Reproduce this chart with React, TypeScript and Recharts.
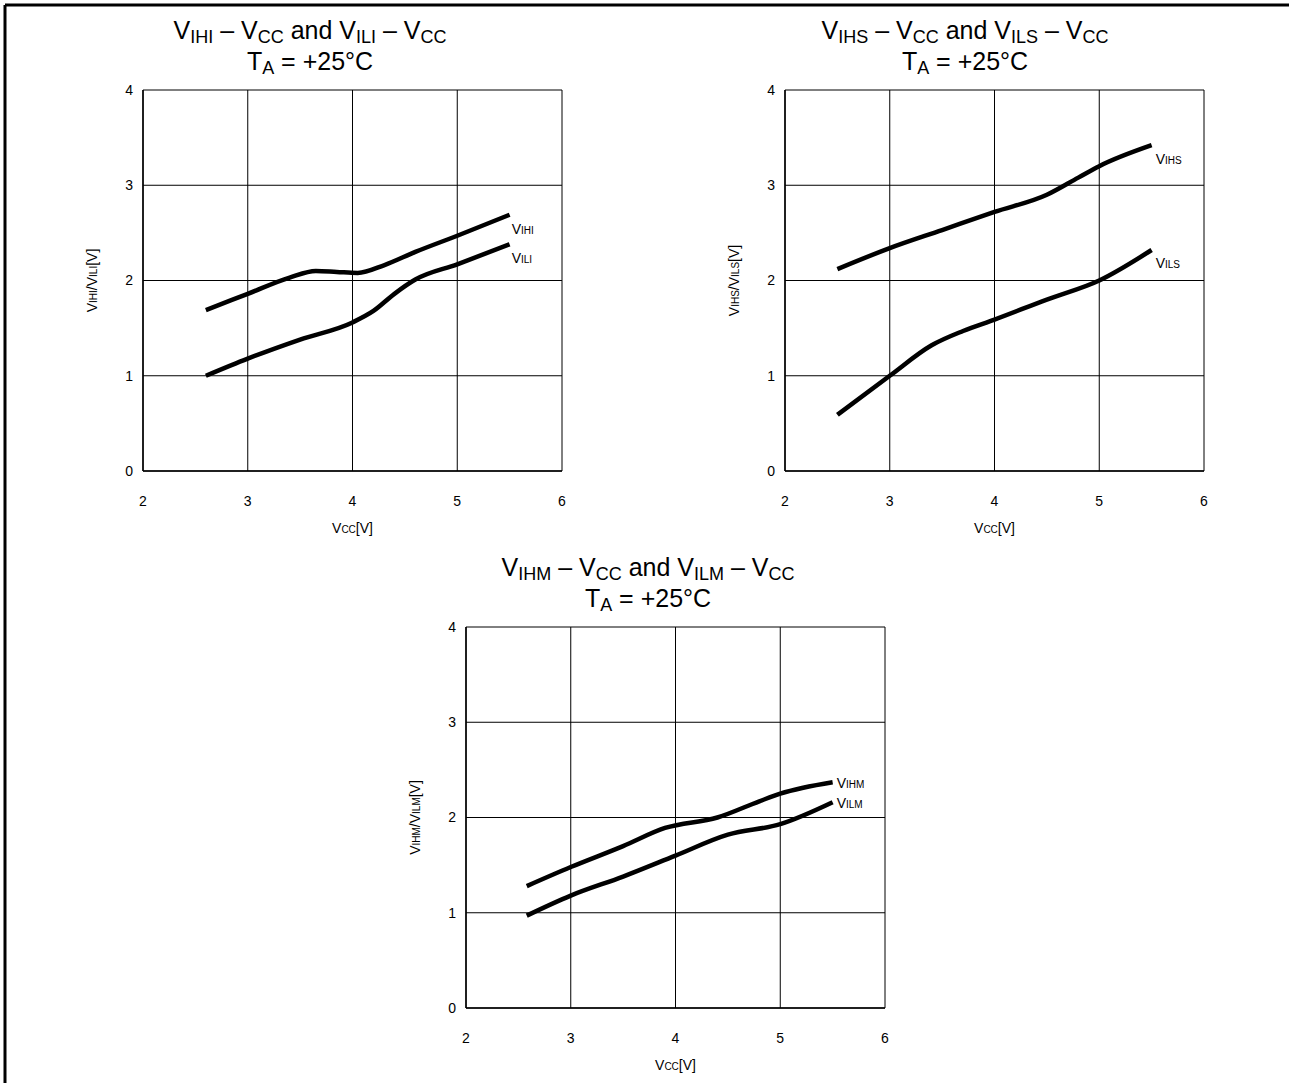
import React from 'react';
import { LineChart, Line, XAxis, YAxis, CartesianGrid } from 'recharts';

const FONT = '"Liberation Sans", Arial, Helvetica, sans-serif';

const xTicks = [2, 3, 4, 5, 6];
const yTicks = [0, 1, 2, 3, 4];

// VIHI / VILI
const vccIHI = [2.6, 3.0, 3.4, 3.65, 3.85, 4.05, 4.3, 4.6, 5.0, 5.5];
const valIHI = [1.69, 1.86, 2.03, 2.1, 2.09, 2.08, 2.16, 2.3, 2.47, 2.69];
const vccILI = [2.6, 3.0, 3.5, 4.0, 4.2, 4.4, 4.6, 5.0, 5.5];
const valILI = [1.0, 1.18, 1.38, 1.56, 1.68, 1.86, 2.01, 2.17, 2.38];

// VIHS / VILS
const vccIHS = [2.5, 3.0, 3.5, 4.0, 4.5, 4.8, 5.0, 5.5];
const valIHS = [2.12, 2.34, 2.53, 2.72, 2.9, 3.08, 3.2, 3.42];
const vccILS = [2.5, 3.0, 3.4, 3.7, 4.0, 4.5, 5.0, 5.5];
const valILS = [0.59, 1.0, 1.32, 1.47, 1.59, 1.8, 2.0, 2.32];

// VIHM / VILM
const vccIHM = [2.58, 3.0, 3.5, 3.9, 4.4, 4.8, 5.0, 5.5];
const valIHM = [1.28, 1.48, 1.7, 1.89, 2.0, 2.17, 2.25, 2.37];
const vccILM = [2.58, 3.0, 3.5, 4.0, 4.5, 5.0, 5.5];
const valILM = [0.97, 1.18, 1.38, 1.6, 1.82, 1.93, 2.16];

const toPoints = (xs: number[], ys: number[]) => xs.map((vcc, i) => ({ vcc, v: ys[i] }));

// text with subscript / small-cap parts, e.g. [["V", false], ["IHI", true]]
const Sub = ({ x, y, parts, size, subSize, drop = 0, anchor = 'start', transform }: any) => (
  <text x={x} y={y} textAnchor={anchor} fontFamily={FONT} fontSize={size} fill="#000" transform={transform}>
    {parts.map((p: [string, boolean], i: number) => {
      const prevSub = i > 0 && parts[i - 1][1];
      const dy = p[1] ? drop : prevSub ? -drop : 0;
      return (
        <tspan key={i} fontSize={p[1] ? subSize : size} dy={dy}>
          {p[0]}
        </tspan>
      );
    })}
  </text>
);

const endLabel = (parts: [string, boolean][], last: number, dx: number, dy: number) => (props: any) => {
  if (props.index !== last) return null;
  return <Sub x={props.x + dx} y={props.y + dy} parts={parts} size={14} subSize={10} />;
};

const Panel = ({ left, top, title, yLabel, series }: any) => (
  <div style={{ position: 'absolute', left, top }}>
    <LineChart width={600} height={560} margin={{ top: 90, right: 38, bottom: 29, left: 63 }}>
      <CartesianGrid stroke="#000" strokeWidth={1} />
      <XAxis
        type="number"
        dataKey="vcc"
        domain={[2, 6]}
        ticks={xTicks}
        height={60}
        tickSize={0}
        tickMargin={25}
        axisLine={{ stroke: '#000', strokeWidth: 1.5 }}
        tick={{ fill: '#000', fontSize: 14, fontFamily: FONT }}
        allowDuplicatedCategory={false}
        label={{
          content: ({ viewBox }: any) => (
            <Sub
              x={viewBox.x + viewBox.width / 2}
              y={viewBox.y + 62}
              anchor="middle"
              parts={[['V', false], ['CC', true], ['[V]', false]]}
              size={14}
              subSize={10}
            />
          ),
        }}
      />
      <YAxis
        type="number"
        domain={[0, 4]}
        ticks={yTicks}
        width={80}
        tickSize={0}
        tickMargin={10}
        axisLine={{ stroke: '#000', strokeWidth: 1.5 }}
        tick={{ fill: '#000', fontSize: 14, fontFamily: FONT }}
        label={{
          content: ({ viewBox }: any) => {
            const cx = viewBox.x + 34;
            const cy = viewBox.y + viewBox.height / 2;
            return (
              <Sub
                x={cx}
                y={cy}
                anchor="middle"
                transform={`rotate(-90 ${cx} ${cy})`}
                parts={yLabel}
                size={14}
                subSize={10}
              />
            );
          },
        }}
      />
      {series.map((s: any) => (
        <Line
          key={s.name}
          data={s.data}
          dataKey="v"
          type="monotone"
          stroke="#000"
          strokeWidth={4.5}
          dot={false}
          isAnimationActive={false}
          label={endLabel(s.label, s.data.length - 1, s.dx, s.dy)}
        />
      ))}
    </LineChart>
    <svg width={600} height={90} style={{ position: 'absolute', left: 0, top: 0 }}>
      <Sub x={title.cx} y={39} anchor="middle" parts={title.line1} size={25} subSize={18} drop={4} />
      <Sub x={title.cx} y={70} anchor="middle" parts={[['T', false], ['A', true], [' = +25°C', false]]} size={25} subSize={18} drop={4} />
    </svg>
  </div>
);

const titleParts = (a: string, b: string): [string, boolean][] => [
  ['V', false], [a, true], [' – V', false], ['CC', true], [' and V', false], [b, true], [' – V', false], ['CC', true],
];

export default function App() {
  return (
    <div style={{ position: 'absolute', left: 0, top: 0, width: 1289, height: 1083, background: '#fff', overflow: 'hidden' }}>
      <Panel
        left={0}
        top={0}
        title={{ cx: 310, line1: titleParts('IHI', 'ILI') }}
        yLabel={[['V', false], ['IHI', true], ['/V', false], ['ILI', true], ['[V]', false]]}
        series={[
          { name: 'VIHI', data: toPoints(vccIHI, valIHI), label: [['V', false], ['IHI', true]], dx: 2, dy: 19 },
          { name: 'VILI', data: toPoints(vccILI, valILI), label: [['V', false], ['ILI', true]], dx: 2, dy: 19 },
        ]}
      />
      <Panel
        left={642}
        top={0}
        title={{ cx: 323, line1: titleParts('IHS', 'ILS') }}
        yLabel={[['V', false], ['IHS', true], ['/V', false], ['ILS', true], ['[V]', false]]}
        series={[
          { name: 'VIHS', data: toPoints(vccIHS, valIHS), label: [['V', false], ['IHS', true]], dx: 4, dy: 19 },
          { name: 'VILS', data: toPoints(vccILS, valILS), label: [['V', false], ['ILS', true]], dx: 4, dy: 18 },
        ]}
      />
      <Panel
        left={323}
        top={537}
        title={{ cx: 325, line1: titleParts('IHM', 'ILM') }}
        yLabel={[['V', false], ['IHM', true], ['/V', false], ['ILM', true], ['[V]', false]]}
        series={[
          { name: 'VIHM', data: toPoints(vccIHM, valIHM), label: [['V', false], ['IHM', true]], dx: 4, dy: 6 },
          { name: 'VILM', data: toPoints(vccILM, valILM), label: [['V', false], ['ILM', true]], dx: 4, dy: 6 },
        ]}
      />
      <svg width={1289} height={1083} style={{ position: 'absolute', left: 0, top: 0, pointerEvents: 'none' }}>
        <line x1={5} y1={5} x2={1289} y2={5} stroke="#000" strokeWidth={3} />
        <line x1={5} y1={5} x2={5} y2={1083} stroke="#000" strokeWidth={3} />
      </svg>
    </div>
  );
}
